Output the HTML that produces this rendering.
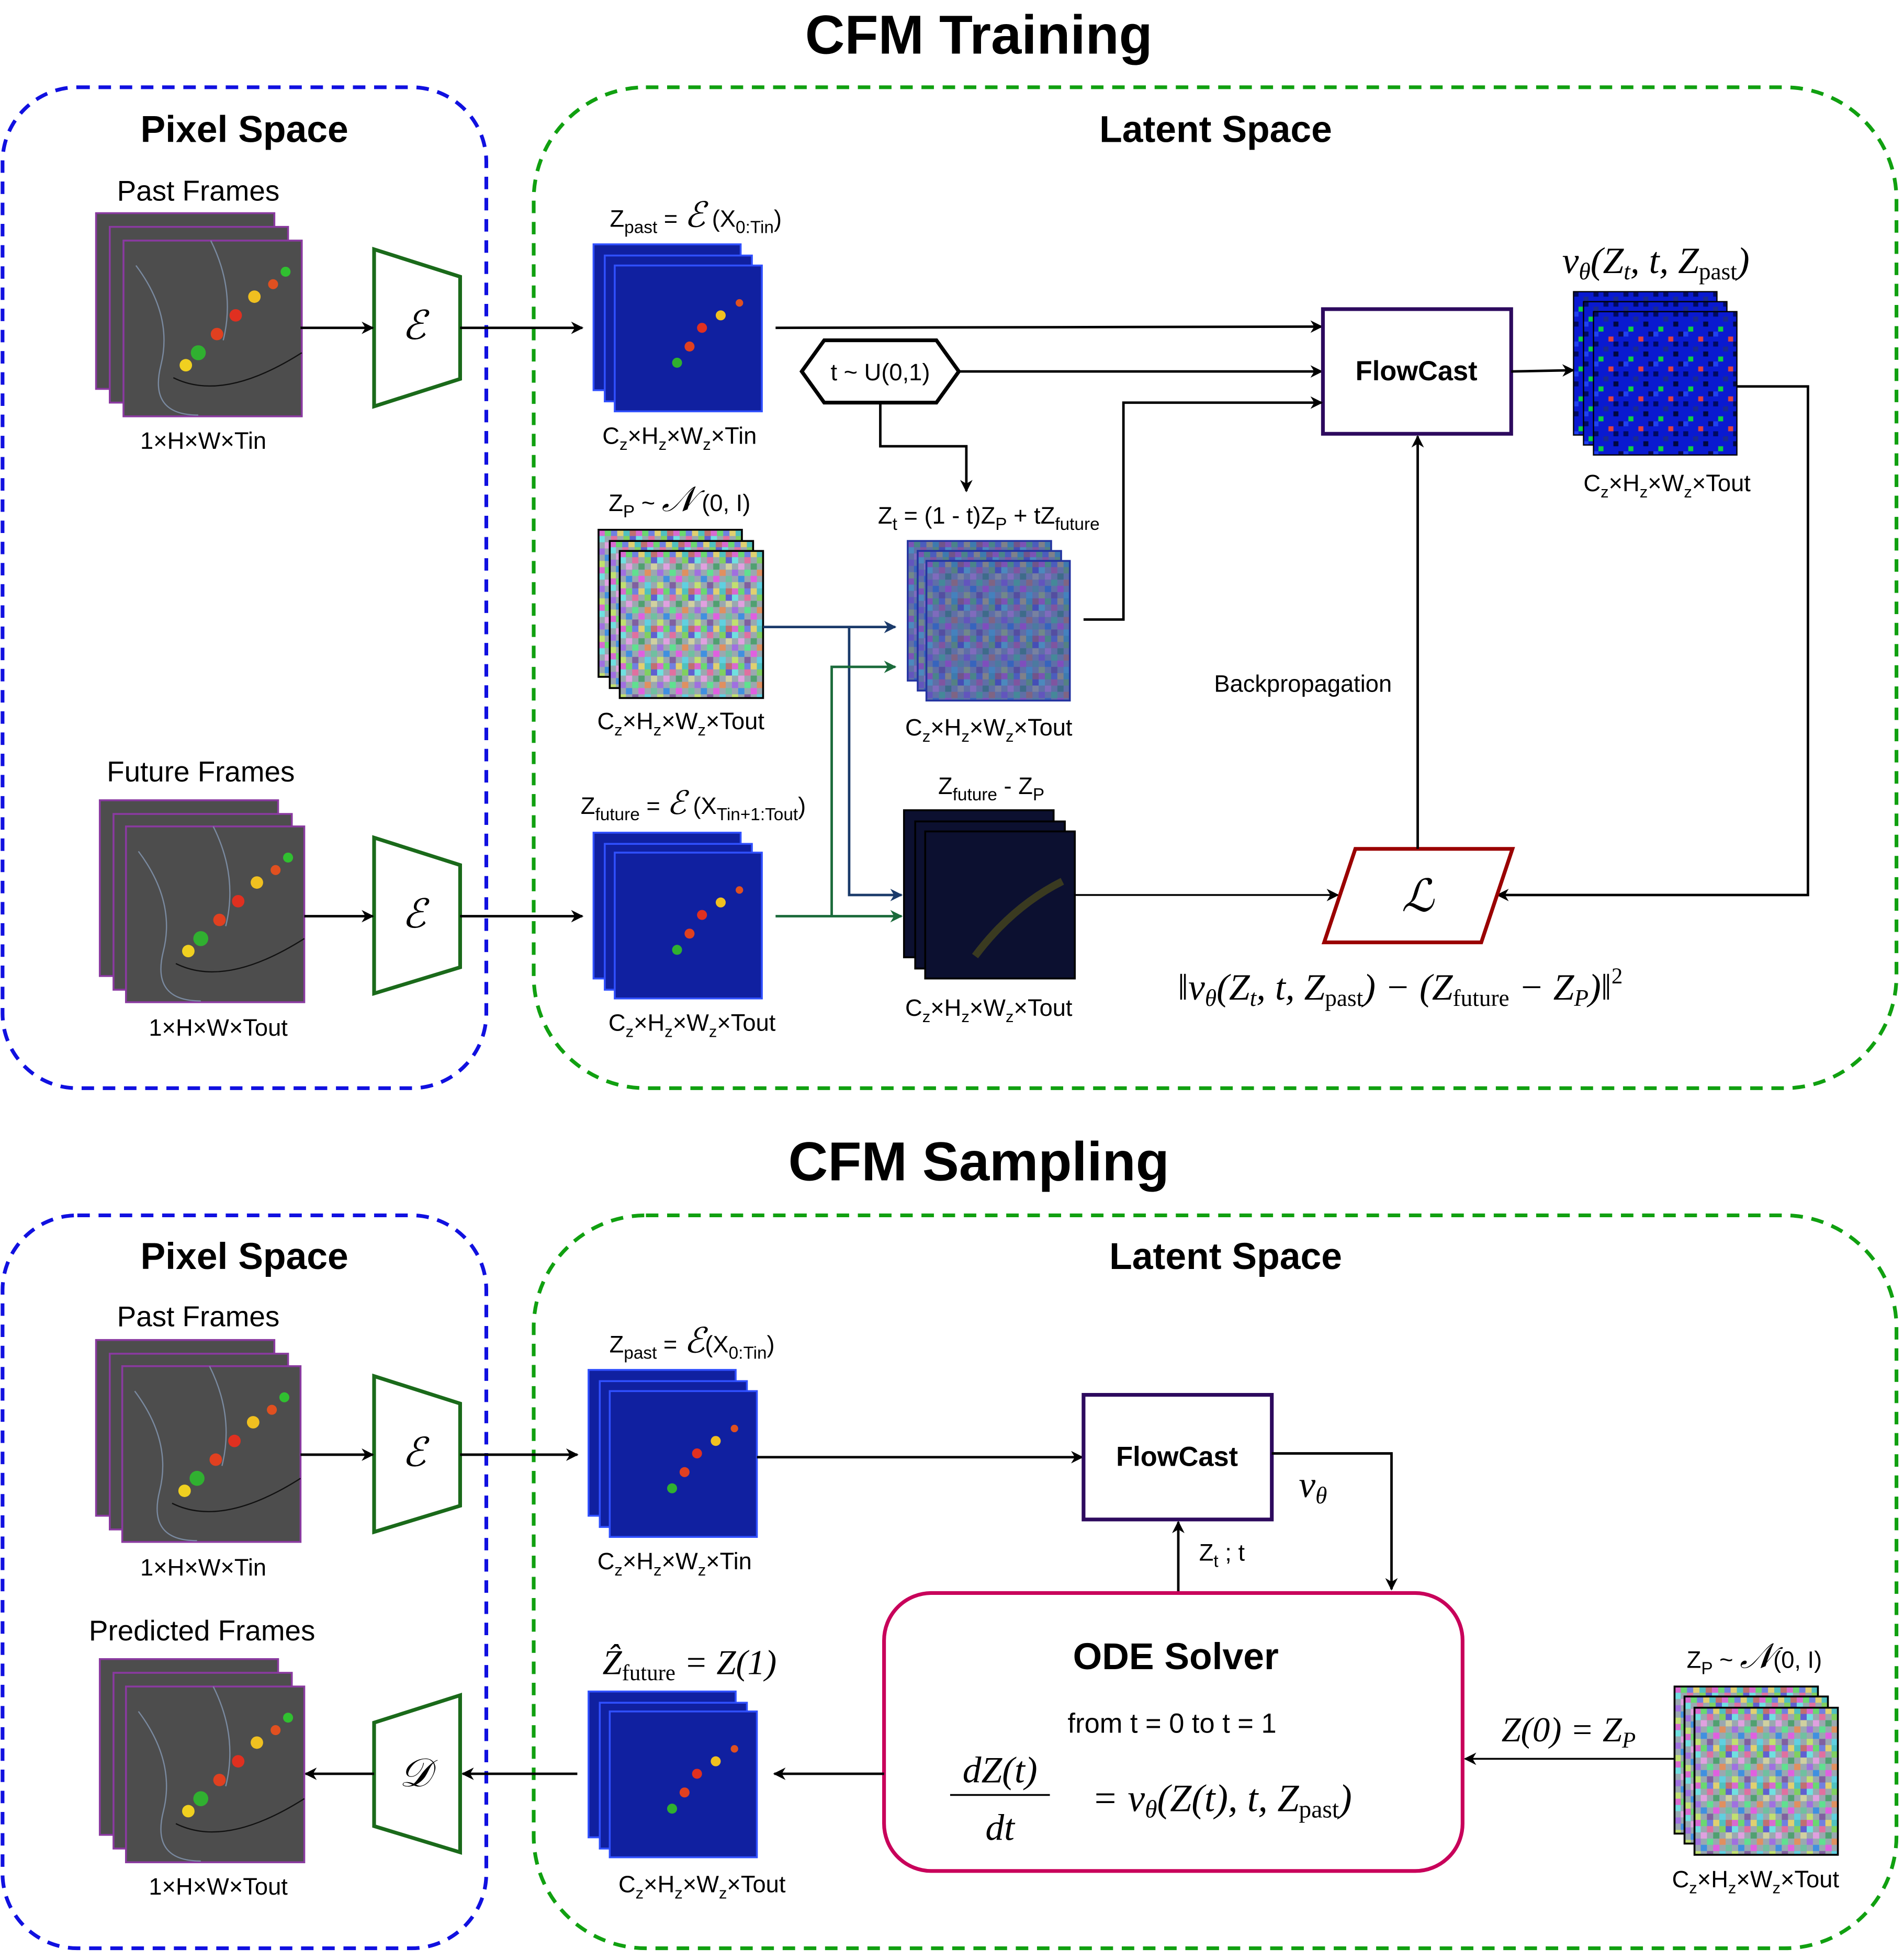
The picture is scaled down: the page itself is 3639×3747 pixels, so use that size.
<!DOCTYPE html>
<html><head><meta charset="utf-8"><style>
html,body{margin:0;padding:0;background:#fff}
svg{display:block}
text{font-family:"Liberation Sans",sans-serif;fill:#000}
.s{font-family:"Liberation Serif",serif;font-style:italic}
</style></head><body>
<svg width="3639" height="3747" viewBox="0 0 1527 1572.4" xmlns="http://www.w3.org/2000/svg">
<defs>
<marker id="a" markerWidth="10" markerHeight="10" refX="9" refY="5" orient="auto" markerUnits="userSpaceOnUse" viewBox="0 0 10 10"><path d="M0,0 L10,5 L0,10 L3,5 z" fill="#000"/></marker>
<marker id="ab" markerWidth="10" markerHeight="10" refX="9" refY="5" orient="auto" markerUnits="userSpaceOnUse" viewBox="0 0 10 10"><path d="M0,0 L10,5 L0,10 L3,5 z" fill="#1a3a6a"/></marker>
<marker id="ag" markerWidth="10" markerHeight="10" refX="9" refY="5" orient="auto" markerUnits="userSpaceOnUse" viewBox="0 0 10 10"><path d="M0,0 L10,5 L0,10 L3,5 z" fill="#1a6a3a"/></marker>
<pattern id="nz" width="30" height="30" patternUnits="userSpaceOnUse">
<rect width="30" height="30" fill="#9aa8b0"/>
<rect x="0" y="0" width="5" height="5" fill="#d86ad0"/><rect x="5" y="0" width="5" height="5" fill="#6ad870"/><rect x="10" y="0" width="5" height="5" fill="#7080e0"/><rect x="15" y="0" width="5" height="5" fill="#e0d070"/><rect x="20" y="0" width="5" height="5" fill="#50c0c0"/><rect x="25" y="0" width="5" height="5" fill="#c07070"/>
<rect x="0" y="5" width="5" height="5" fill="#70e0e0"/><rect x="10" y="5" width="5" height="5" fill="#e070a0"/><rect x="20" y="5" width="5" height="5" fill="#80d060"/><rect x="25" y="5" width="5" height="5" fill="#6060d0"/>
<rect x="5" y="10" width="5" height="5" fill="#e0a0e0"/><rect x="15" y="10" width="5" height="5" fill="#50a070"/><rect x="25" y="10" width="5" height="5" fill="#d0d0a0"/>
<rect x="0" y="15" width="5" height="5" fill="#a070e0"/><rect x="10" y="15" width="5" height="5" fill="#60e090"/><rect x="20" y="15" width="5" height="5" fill="#e09060"/>
<rect x="5" y="20" width="5" height="5" fill="#4090e0"/><rect x="15" y="20" width="5" height="5" fill="#e060e0"/><rect x="25" y="20" width="5" height="5" fill="#70c0a0"/>
<rect x="0" y="25" width="5" height="5" fill="#c0e070"/><rect x="10" y="25" width="5" height="5" fill="#8060a0"/><rect x="20" y="25" width="5" height="5" fill="#60d0e0"/>
</pattern>
<pattern id="bn" width="24" height="24" patternUnits="userSpaceOnUse">
<rect width="24" height="24" fill="#0a1ad0"/>
<rect x="0" y="0" width="4" height="4" fill="#000a60"/><rect x="8" y="4" width="4" height="4" fill="#1a2a90"/><rect x="16" y="8" width="4" height="4" fill="#000840"/><rect x="4" y="12" width="4" height="4" fill="#10d040"/><rect x="20" y="16" width="4" height="4" fill="#0a0a50"/><rect x="12" y="20" width="4" height="4" fill="#e04040"/><rect x="0" y="16" width="4" height="4" fill="#2040f0"/><rect x="16" y="0" width="4" height="4" fill="#000a60"/>
</pattern>
<g id="pix"><rect width="143" height="141" fill="#4d4d4d" stroke="#8a3aa0" stroke-width="1.5"/></g>
<g id="pixf"><rect width="143" height="141" fill="#4d4d4d" stroke="#8a3aa0" stroke-width="1.5"/>
<path d="M10,20 Q40,60 30,100 T60,140 M70,0 Q90,40 80,80" stroke="#7a8aa0" fill="none"/>
<circle cx="90" cy="60" r="5" fill="#e03020"/><circle cx="105" cy="45" r="5" fill="#f0c020"/><circle cx="75" cy="75" r="5" fill="#e04020"/><circle cx="60" cy="90" r="6" fill="#30b030"/><circle cx="120" cy="35" r="4" fill="#e05020"/><circle cx="50" cy="100" r="5" fill="#f0d020"/><circle cx="130" cy="25" r="4" fill="#30c030"/>
<path d="M40,110 Q80,130 143,90" stroke="#111" fill="none"/></g>
<g id="lat"><rect width="118" height="117" fill="#1020a0" stroke="#3050ff" stroke-width="1.5"/>
<circle cx="70" cy="50" r="4" fill="#e03020"/><circle cx="85" cy="40" r="4" fill="#f0c020"/><circle cx="60" cy="65" r="4" fill="#e04020"/><circle cx="50" cy="78" r="4" fill="#30b030"/><circle cx="100" cy="30" r="3" fill="#e05020"/></g>
<g id="latb"><rect width="118" height="117" fill="#1020a0" stroke="#3050ff" stroke-width="1.5"/></g>
<g id="noi"><rect width="115" height="118" fill="url(#nz)" stroke="#000" stroke-width="1.5"/></g>
<g id="bno"><rect width="115" height="115" fill="url(#bn)" stroke="#000" stroke-width="1"/></g>
<g id="ztn"><rect width="115" height="112" fill="url(#nz)" stroke="#2030a0" stroke-width="1.5"/><rect width="115" height="112" fill="#3040a0" opacity="0.55"/></g>
<g id="dif"><rect width="120" height="118" fill="#0c1030" stroke="#000" stroke-width="1.5"/><path d="M40,100 Q70,60 110,40" stroke="#3a3a20" stroke-width="6" fill="none"/></g>
</defs>
<rect width="1527" height="1572.4" fill="#fff"/>

<!-- TRAINING -->
<text x="785" y="43" font-size="44" font-weight="bold" text-anchor="middle">CFM Training</text>
<rect x="2" y="70" width="388" height="803" rx="60" fill="none" stroke="#1010e0" stroke-width="3" stroke-dasharray="10,7"/>
<rect x="428" y="70" width="1093" height="803" rx="90" fill="none" stroke="#10a010" stroke-width="3" stroke-dasharray="10,7"/>
<text x="196" y="114" font-size="30" font-weight="bold" text-anchor="middle">Pixel Space</text>
<text x="975" y="114" font-size="30" font-weight="bold" text-anchor="middle">Latent Space</text>

<text x="159" y="161" font-size="23" text-anchor="middle">Past Frames</text>
<use href="#pix" x="77" y="171"/><use href="#pix" x="88" y="182"/><use href="#pixf" x="99" y="193"/>
<text x="163" y="360" font-size="19" text-anchor="middle">1×H×W×Tin</text>
<path d="M300,200 L369,222 L369,304 L300,326 Z" fill="#fff" stroke="#1a6a1a" stroke-width="3"/>
<text x="332" y="272" class="s" font-size="32" text-anchor="middle">ℰ</text>
<line x1="241" y1="263" x2="299" y2="263" stroke="#000" stroke-width="2" marker-end="url(#a)"/>
<line x1="369" y1="263" x2="467" y2="263" stroke="#000" stroke-width="2" marker-end="url(#a)"/>

<text x="558" y="182" font-size="19" text-anchor="middle">Z<tspan font-size="14" dy="5">past</tspan><tspan dy="-5"> = </tspan><tspan class="s" font-size="28">ℰ</tspan><tspan> (X</tspan><tspan font-size="14" dy="5">0:Tin</tspan><tspan dy="-5">)</tspan></text>
<use href="#latb" x="476" y="196"/><use href="#latb" x="485" y="205"/><use href="#lat" x="493" y="213"/>
<text x="545" y="356" font-size="19" text-anchor="middle">C<tspan font-size="13" dy="5">z</tspan><tspan dy="-5">×H</tspan><tspan font-size="13" dy="5">z</tspan><tspan dy="-5">×W</tspan><tspan font-size="13" dy="5">z</tspan><tspan dy="-5">×Tin</tspan></text>
<line x1="622" y1="263" x2="1060" y2="262" stroke="#000" stroke-width="2" marker-end="url(#a)"/>

<path d="M643,298 L661,273 L751,273 L769,298 L751,323 L661,323 Z" fill="#fff" stroke="#000" stroke-width="3"/>
<text x="706" y="305" font-size="19" text-anchor="middle">t ~ U(0,1)</text>
<line x1="769" y1="298" x2="1060" y2="298" stroke="#000" stroke-width="2" marker-end="url(#a)"/>
<polyline points="706,323 706,358 775,358 775,394" fill="none" stroke="#000" stroke-width="2" marker-end="url(#a)"/>

<rect x="1061" y="248" width="151" height="100" fill="#fff" stroke="#2d0a5e" stroke-width="3"/>
<text x="1136" y="305" font-size="22" font-weight="bold" text-anchor="middle">FlowCast</text>
<line x1="1212" y1="298" x2="1262" y2="297" stroke="#000" stroke-width="2" marker-end="url(#a)"/>
<text x="1328" y="219" class="s" font-size="30" text-anchor="middle">v<tspan font-size="19" dy="5">θ</tspan><tspan dy="-5">(Z</tspan><tspan font-size="19" dy="5">t</tspan><tspan dy="-5">, t, Z</tspan><tspan font-size="19" dy="5" font-style="normal">past</tspan><tspan dy="-5">)</tspan></text>
<use href="#bno" x="1262" y="234"/><use href="#bno" x="1270" y="242"/><use href="#bno" x="1278" y="250"/>
<text x="1337" y="394" font-size="19" text-anchor="middle">C<tspan font-size="13" dy="5">z</tspan><tspan dy="-5">×H</tspan><tspan font-size="13" dy="5">z</tspan><tspan dy="-5">×W</tspan><tspan font-size="13" dy="5">z</tspan><tspan dy="-5">×Tout</tspan></text>
<polyline points="1393,310 1450,310 1450,718 1201,718" fill="none" stroke="#000" stroke-width="2" marker-end="url(#a)"/>

<text x="793" y="420" font-size="19" text-anchor="middle">Z<tspan font-size="14" dy="5">t</tspan><tspan dy="-5"> = (1 - t)Z</tspan><tspan font-size="14" dy="5">P</tspan><tspan dy="-5"> + tZ</tspan><tspan font-size="14" dy="5">future</tspan></text>
<use href="#ztn" x="728" y="434"/><use href="#ztn" x="736" y="442"/><use href="#ztn" x="743" y="450"/>
<text x="793" y="590" font-size="19" text-anchor="middle">C<tspan font-size="13" dy="5">z</tspan><tspan dy="-5">×H</tspan><tspan font-size="13" dy="5">z</tspan><tspan dy="-5">×W</tspan><tspan font-size="13" dy="5">z</tspan><tspan dy="-5">×Tout</tspan></text>
<polyline points="869,497 901,497 901,323 1060,323" fill="none" stroke="#000" stroke-width="2" marker-end="url(#a)"/>

<text x="545" y="410" font-size="19" text-anchor="middle">Z<tspan font-size="14" dy="5">P</tspan><tspan dy="-5">  ~  </tspan><tspan class="s" font-size="28">𝒩</tspan><tspan> (0, I)</tspan></text>
<use href="#noi" x="480" y="425"/><use href="#noi" x="489" y="434"/><use href="#noi" x="497" y="442"/>
<text x="546" y="585" font-size="19" text-anchor="middle">C<tspan font-size="13" dy="5">z</tspan><tspan dy="-5">×H</tspan><tspan font-size="13" dy="5">z</tspan><tspan dy="-5">×W</tspan><tspan font-size="13" dy="5">z</tspan><tspan dy="-5">×Tout</tspan></text>
<line x1="612" y1="503" x2="718" y2="503" stroke="#1a3a6a" stroke-width="2" marker-end="url(#ab)"/>
<polyline points="681,503 681,718 723,718" fill="none" stroke="#1a3a6a" stroke-width="2" marker-end="url(#ab)"/>
<line x1="622" y1="735" x2="723" y2="735" stroke="#1a6a3a" stroke-width="2" marker-end="url(#ag)"/>
<polyline points="667,735 667,535 718,535" fill="none" stroke="#1a6a3a" stroke-width="2" marker-end="url(#ag)"/>

<text x="161" y="627" font-size="23" text-anchor="middle">Future Frames</text>
<use href="#pix" x="80" y="642"/><use href="#pix" x="91" y="653"/><use href="#pixf" x="101" y="663"/>
<text x="175" y="831" font-size="19" text-anchor="middle">1×H×W×Tout</text>
<path d="M300,672 L369,694 L369,776 L300,797 Z" fill="#fff" stroke="#1a6a1a" stroke-width="3"/>
<text x="332" y="744" class="s" font-size="32" text-anchor="middle">ℰ</text>
<line x1="244" y1="735" x2="299" y2="735" stroke="#000" stroke-width="2" marker-end="url(#a)"/>
<line x1="369" y1="735" x2="467" y2="735" stroke="#000" stroke-width="2" marker-end="url(#a)"/>

<text x="556" y="653" font-size="19" text-anchor="middle">Z<tspan font-size="14" dy="5">future</tspan><tspan dy="-5"> = </tspan><tspan class="s" font-size="26">ℰ</tspan><tspan> (X</tspan><tspan font-size="14" dy="5">Tin+1:Tout</tspan><tspan dy="-5">)</tspan></text>
<use href="#latb" x="476" y="668"/><use href="#latb" x="485" y="677"/><use href="#lat" x="493" y="684"/>
<text x="555" y="827" font-size="19" text-anchor="middle">C<tspan font-size="13" dy="5">z</tspan><tspan dy="-5">×H</tspan><tspan font-size="13" dy="5">z</tspan><tspan dy="-5">×W</tspan><tspan font-size="13" dy="5">z</tspan><tspan dy="-5">×Tout</tspan></text>

<text x="795" y="637" font-size="19" text-anchor="middle">Z<tspan font-size="14" dy="5">future</tspan><tspan dy="-5"> - Z</tspan><tspan font-size="14" dy="5">P</tspan></text>
<use href="#dif" x="725" y="650"/><use href="#dif" x="734" y="659"/><use href="#dif" x="742" y="667"/>
<text x="793" y="815" font-size="19" text-anchor="middle">C<tspan font-size="13" dy="5">z</tspan><tspan dy="-5">×H</tspan><tspan font-size="13" dy="5">z</tspan><tspan dy="-5">×W</tspan><tspan font-size="13" dy="5">z</tspan><tspan dy="-5">×Tout</tspan></text>
<line x1="862" y1="718" x2="1073" y2="718" stroke="#000" stroke-width="1.5" marker-end="url(#a)"/>

<path d="M1087,681 L1213,681 L1188,756 L1062,756 Z" fill="#fff" stroke="#9a0000" stroke-width="3"/>
<text x="1137" y="731" class="s" font-size="36" text-anchor="middle">ℒ</text>
<line x1="1137" y1="681" x2="1137" y2="350" stroke="#000" stroke-width="2" marker-end="url(#a)"/>
<text x="1045" y="555" font-size="19" text-anchor="middle">Backpropagation</text>
<text x="1123" y="802" class="s" font-size="30" text-anchor="middle">‖v<tspan font-size="19" dy="5">θ</tspan><tspan dy="-5">(Z</tspan><tspan font-size="19" dy="5">t</tspan><tspan dy="-5">, t, Z</tspan><tspan font-size="19" dy="5" font-style="normal">past</tspan><tspan dy="-5">) − (Z</tspan><tspan font-size="19" dy="5" font-style="normal">future</tspan><tspan dy="-5"> − Z</tspan><tspan font-size="19" dy="5">P</tspan><tspan dy="-5">)‖</tspan><tspan font-size="18" dy="-13" font-style="normal">2</tspan></text>

<!-- SAMPLING -->
<text x="785" y="947" font-size="44" font-weight="bold" text-anchor="middle">CFM Sampling</text>
<rect x="2" y="975" width="388" height="588" rx="60" fill="none" stroke="#1010e0" stroke-width="3" stroke-dasharray="10,7"/>
<rect x="428" y="975" width="1093" height="588" rx="90" fill="none" stroke="#10a010" stroke-width="3" stroke-dasharray="10,7"/>
<text x="196" y="1018" font-size="30" font-weight="bold" text-anchor="middle">Pixel Space</text>
<text x="983" y="1018" font-size="30" font-weight="bold" text-anchor="middle">Latent Space</text>

<text x="159" y="1064" font-size="23" text-anchor="middle">Past Frames</text>
<use href="#pix" x="77" y="1075"/><use href="#pix" x="88" y="1086"/><use href="#pixf" x="98" y="1096"/>
<text x="163" y="1264" font-size="19" text-anchor="middle">1×H×W×Tin</text>
<path d="M300,1104 L369,1126 L369,1208 L300,1229 Z" fill="#fff" stroke="#1a6a1a" stroke-width="3"/>
<text x="332" y="1176" class="s" font-size="32" text-anchor="middle">ℰ</text>
<line x1="241" y1="1167" x2="299" y2="1167" stroke="#000" stroke-width="2" marker-end="url(#a)"/>
<line x1="369" y1="1167" x2="463" y2="1167" stroke="#000" stroke-width="2" marker-end="url(#a)"/>

<text x="555" y="1085" font-size="19" text-anchor="middle">Z<tspan font-size="14" dy="5">past</tspan><tspan dy="-5"> = </tspan><tspan class="s" font-size="28">ℰ</tspan><tspan>(X</tspan><tspan font-size="14" dy="5">0:Tin</tspan><tspan dy="-5">)</tspan></text>
<use href="#latb" x="472" y="1099"/><use href="#latb" x="481" y="1108"/><use href="#lat" x="489" y="1116"/>
<text x="541" y="1259" font-size="19" text-anchor="middle">C<tspan font-size="13" dy="5">z</tspan><tspan dy="-5">×H</tspan><tspan font-size="13" dy="5">z</tspan><tspan dy="-5">×W</tspan><tspan font-size="13" dy="5">z</tspan><tspan dy="-5">×Tin</tspan></text>
<line x1="607" y1="1169" x2="868" y2="1169" stroke="#000" stroke-width="2" marker-end="url(#a)"/>

<rect x="869" y="1119" width="151" height="100" fill="#fff" stroke="#2d0a5e" stroke-width="3"/>
<text x="944" y="1176" font-size="22" font-weight="bold" text-anchor="middle">FlowCast</text>
<text x="1053" y="1201" class="s" font-size="30" text-anchor="middle">v<tspan font-size="19" dy="5">θ</tspan></text>
<polyline points="1020,1166 1116,1166 1116,1275" fill="none" stroke="#000" stroke-width="2" marker-end="url(#a)"/>
<text x="980" y="1252" font-size="19" text-anchor="middle">Z<tspan font-size="14" dy="5">t</tspan><tspan dy="-5"> ; t</tspan></text>
<line x1="945" y1="1277" x2="945" y2="1221" stroke="#000" stroke-width="2" marker-end="url(#a)"/>

<rect x="709" y="1278" width="464" height="223" rx="38" fill="#fff" stroke="#c8005a" stroke-width="3"/>
<text x="943" y="1339" font-size="30" font-weight="bold" text-anchor="middle">ODE Solver</text>
<text x="940" y="1390" font-size="22" text-anchor="middle">from t = 0 to t = 1</text>
<text x="802" y="1430" class="s" font-size="30" text-anchor="middle">dZ(t)</text>
<line x1="762" y1="1440" x2="842" y2="1440" stroke="#000" stroke-width="1.5"/>
<text x="802" y="1476" class="s" font-size="30" text-anchor="middle">dt</text>
<text x="983" y="1453" class="s" font-size="31" text-anchor="middle"><tspan dx="-3">= v</tspan><tspan font-size="20" dy="5">θ</tspan><tspan dy="-5">(Z(t), t, Z</tspan><tspan font-size="20" dy="5" font-style="normal">past</tspan><tspan dy="-5">)</tspan></text>
<line x1="709" y1="1423" x2="621" y2="1423" stroke="#000" stroke-width="2" marker-end="url(#a)"/>

<text x="553" y="1343" class="s" font-size="28" text-anchor="middle">Ẑ<tspan font-size="18" dy="5" font-style="normal">future</tspan><tspan dy="-5"> = Z(1)</tspan></text>
<use href="#latb" x="472" y="1357"/><use href="#latb" x="481" y="1366"/><use href="#lat" x="489" y="1373"/>
<text x="563" y="1518" font-size="19" text-anchor="middle">C<tspan font-size="13" dy="5">z</tspan><tspan dy="-5">×H</tspan><tspan font-size="13" dy="5">z</tspan><tspan dy="-5">×W</tspan><tspan font-size="13" dy="5">z</tspan><tspan dy="-5">×Tout</tspan></text>
<line x1="463" y1="1423" x2="371" y2="1423" stroke="#000" stroke-width="2" marker-end="url(#a)"/>
<path d="M369,1360 L300,1382 L300,1465 L369,1486 Z" fill="#fff" stroke="#1a6a1a" stroke-width="3"/>
<text x="333" y="1433" class="s" font-size="32" text-anchor="middle">𝒟</text>
<line x1="300" y1="1423" x2="245" y2="1423" stroke="#000" stroke-width="2" marker-end="url(#a)"/>

<text x="162" y="1316" font-size="23" text-anchor="middle">Predicted Frames</text>
<use href="#pix" x="80" y="1331"/><use href="#pix" x="91" y="1342"/><use href="#pixf" x="101" y="1353"/>
<text x="175" y="1520" font-size="19" text-anchor="middle">1×H×W×Tout</text>

<text x="1407" y="1338" font-size="19" text-anchor="middle">Z<tspan font-size="14" dy="5">P</tspan><tspan dy="-5">  ~  </tspan><tspan class="s" font-size="28">𝒩</tspan><tspan>(0, I)</tspan></text>
<use href="#noi" x="1343" y="1353"/><use href="#noi" x="1351" y="1361"/><use href="#noi" x="1359" y="1370"/>
<text x="1408" y="1514" font-size="19" text-anchor="middle">C<tspan font-size="13" dy="5">z</tspan><tspan dy="-5">×H</tspan><tspan font-size="13" dy="5">z</tspan><tspan dy="-5">×W</tspan><tspan font-size="13" dy="5">z</tspan><tspan dy="-5">×Tout</tspan></text>
<line x1="1343" y1="1411" x2="1175" y2="1411" stroke="#000" stroke-width="1.5" marker-end="url(#a)"/>
<text x="1258" y="1397" class="s" font-size="28" text-anchor="middle">Z(0)  =  Z<tspan font-size="18" dy="5">P</tspan></text>
</svg>
</body></html>
